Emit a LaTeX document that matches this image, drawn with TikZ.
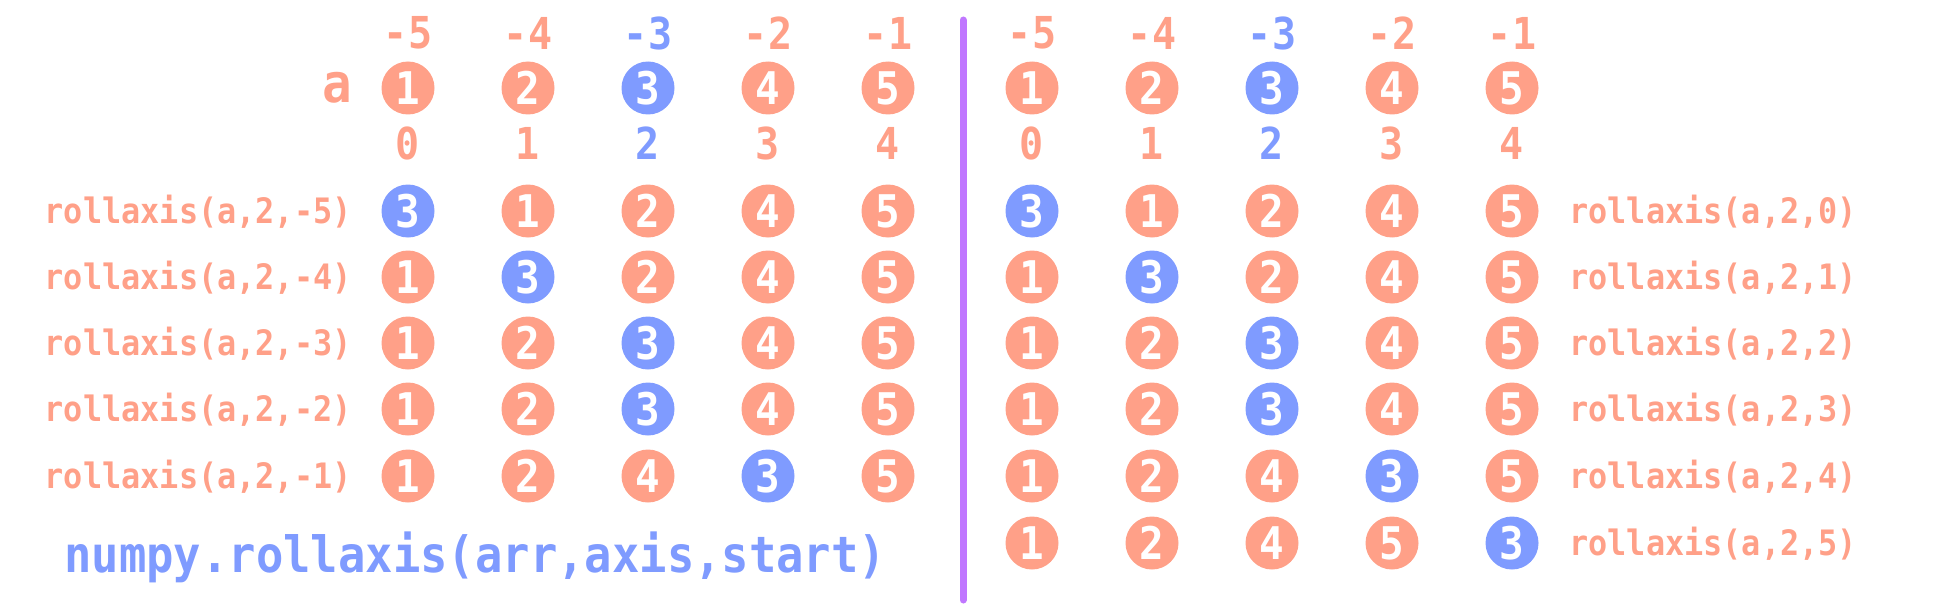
\documentclass[tikz,border=0pt]{standalone}
\usepackage{fontspec}
\setmonofont[FakeStretch=0.91]{DejaVu Sans Mono}
\definecolor{sal}{HTML}{FFA088}
\definecolor{blu}{HTML}{7F9BFF}
\definecolor{pur}{HTML}{C077FF}
\begin{document}
\begin{tikzpicture}[x=0.5pt,y=-0.5pt,
  ball/.style={circle,fill=#1,minimum size=26.5pt,inner sep=0pt,text=white,
    font=\ttfamily\bfseries\fontsize{22.5pt}{23pt}\selectfont},
  idx/.style={inner sep=0pt,font=\ttfamily\bfseries\fontsize{22pt}{22pt}\selectfont},
  lab/.style={inner sep=0pt,text=sal,font=\ttfamily\bfseries\fontsize{17.5pt}{18pt}\selectfont},
  title/.style={inner sep=0pt,text=blu,font=\ttfamily\bfseries\fontsize{25pt}{25pt}\selectfont},
  sep/.style={pur,line width=3.5pt,line cap=round}]
\useasboundingbox (0,0) rectangle (1941,610);
% header rows
\foreach \side/\xs in {L/408,R/1032}{
  \foreach \t/\b/\c [count=\i from 0] in {-5/0/sal,-4/1/sal,-3/2/blu,-2/3/sal,-1/4/sal}{
    \node[idx,text=\c] (\side top\i) at ({\xs+120*\i},33) {\t};
    \node[ball=\c] (\side a\i) at ({\xs+120*\i},88) {\the\numexpr\i+1\relax};
    \node[idx,text=\c] (\side bot\i) at ({\xs+120*\i},143) {\b};
  }
}
\node[anchor=east,inner sep=0pt,text=sal,font=\ttfamily\bfseries\fontsize{27pt}{27pt}\selectfont] (alab) at (352,88) {a};
% left rows
\foreach \lab/\y/\p/\q/\r/\s/\u [count=\n] in
  {-5/211/3/1/2/4/5,-4/277/1/3/2/4/5,-3/343/1/2/3/4/5,-2/409/1/2/3/4/5,-1/476/1/2/4/3/5}{
  \node[lab,anchor=base east] (Llab\n) at (352,\y+12) {rollaxis(a,2,\lab)};
  \foreach \v [count=\k from 0] in {\p,\q,\r,\s,\u}{
    \edef\col{\ifnum\v=3 blu\else sal\fi}
    \node[ball=\col] (L\n-\k) at ({408+120*\k},\y) {\v};
  }
}
% right rows
\foreach \lab/\y/\p/\q/\r/\s/\u [count=\n] in
  {0/211/3/1/2/4/5,1/277/1/3/2/4/5,2/343/1/2/3/4/5,3/409/1/2/3/4/5,4/476/1/2/4/3/5,5/543/1/2/4/5/3}{
  \node[lab,anchor=base west] (Rlab\n) at (1569,\y+12) {rollaxis(a,2,\lab)};
  \foreach \v [count=\k from 0] in {\p,\q,\r,\s,\u}{
    \edef\col{\ifnum\v=3 blu\else sal\fi}
    \node[ball=\col] (R\n-\k) at ({1032+120*\k},\y) {\v};
  }
}
\node[title,anchor=base west] (ttl) at (64,572) {numpy.rollaxis(arr,axis,start)};
\coordinate (septop) at (963,20);
\coordinate (sepbot) at (963,600);
\draw[sep] (septop) -- (sepbot);
\end{tikzpicture}
\end{document}
